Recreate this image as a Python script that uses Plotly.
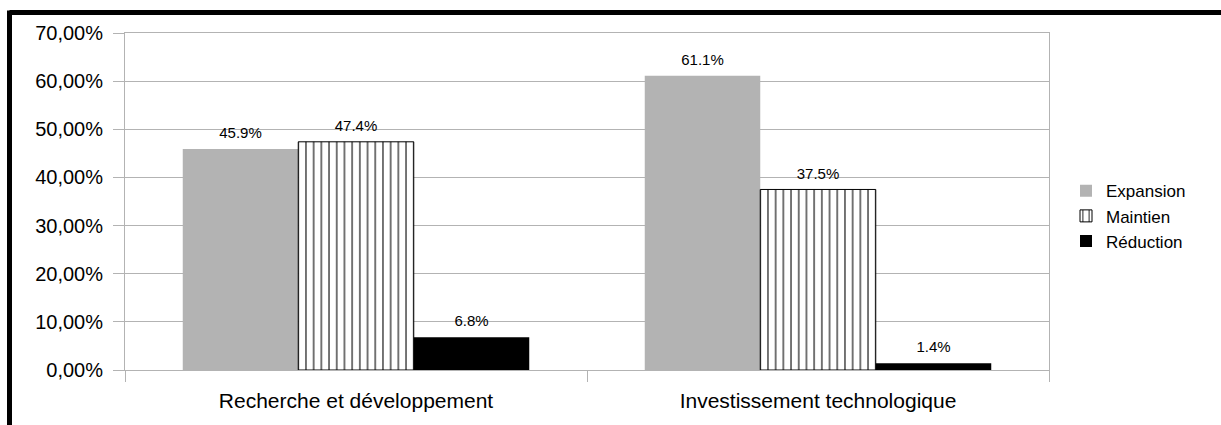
import plotly.graph_objects as go

categories = ["Recherche et développement", "Investissement technologique"]
series_names = ["Expansion", "Maintien", "Réduction"]
expansion = [45.9, 61.1]
maintien = [47.4, 37.5]
reduction = [6.8, 1.4]
y_ticks = [0, 10, 20, 30, 40, 50, 60, 70]
y_tick_labels = ["0,00%", "10,00%", "20,00%", "30,00%", "40,00%", "50,00%", "60,00%", "70,00%"]

W, H = 1221, 425
L, R, T, B = 125, 172, 32.5, 55

FONT = "Liberation Sans, Arial, sans-serif"

series_values = [expansion, maintien, reduction]
markers = [
    dict(color="#b3b3b3", line=dict(width=0)),
    dict(color="white", line=dict(color="black", width=1),
         pattern=dict(shape="|", size=7.7, solidity=0.14,
                      fgcolor="black", bgcolor="white", fillmode="replace")),
    dict(color="black", line=dict(width=0)),
]

fig = go.Figure()

# visible bars
for name, vals, mk in zip(series_names, series_values, markers):
    fig.add_trace(go.Bar(name=name, x=categories, y=vals, marker=mk,
                         yaxis="y"))

# value labels (transparent bars on an overlaid, slightly shifted axis)
for name, vals in zip(series_names, series_values):
    fig.add_trace(go.Bar(name=name, x=categories, y=vals,
                         text=[f"{v}%" for v in vals], textposition="outside",
                         textfont=dict(family=FONT, size=15, color="black"),
                         marker=dict(color="rgba(0,0,0,0)", line=dict(width=0)),
                         cliponaxis=False, showlegend=False, hoverinfo="skip",
                         yaxis="y2"))

def px_x(p):
    return (p - L) / (W - L - R)

def px_y(p):
    return (H - B - p) / (H - T - B)

# black frame at top and left
fig.add_shape(type="line", xref="paper", yref="paper",
              x0=px_x(9.5), x1=px_x(1240), y0=px_y(12), y1=px_y(12),
              line=dict(color="black", width=5))
fig.add_shape(type="line", xref="paper", yref="paper",
              x0=px_x(9.5), x1=px_x(9.5), y0=px_y(10), y1=px_y(440),
              line=dict(color="black", width=5))

fig.update_layout(
    width=W, height=H, autosize=False,
    margin=dict(l=L, r=R, t=T, b=B, pad=0),
    paper_bgcolor="white", plot_bgcolor="white",
    barmode="group", bargap=0.25, bargroupgap=0,
    font=dict(family=FONT, color="black"),
    legend=dict(x=px_x(1066), y=px_y(216), xanchor="left", yanchor="middle",
                font=dict(size=17, family=FONT), bgcolor="rgba(0,0,0,0)",
                itemwidth=30),
    showlegend=True,
    yaxis=dict(
        range=[0, 70], tickvals=y_ticks, ticktext=y_tick_labels,
        showgrid=True, gridcolor="#b3b3b3", gridwidth=1,
        showline=True, linecolor="#b3b3b3", linewidth=1, mirror=True,
        ticks="outside", ticklen=11, tickcolor="#b3b3b3",
        tickfont=dict(size=20, family=FONT, color="black"),
        ticklabelstandoff=6,
        zeroline=False,
    ),
    yaxis2=dict(range=[-1.0, 69.0], overlaying="y", visible=False,
                showgrid=False, zeroline=False),
    xaxis=dict(
        tickson="boundaries", ticks="outside", ticklen=11, tickcolor="#b3b3b3",
        showline=True, linecolor="#b3b3b3", linewidth=1, mirror=True,
        tickfont=dict(size=21, family=FONT, color="black"),
        ticklabelstandoff=12,
    ),
)

fig.write_html("out.html")
